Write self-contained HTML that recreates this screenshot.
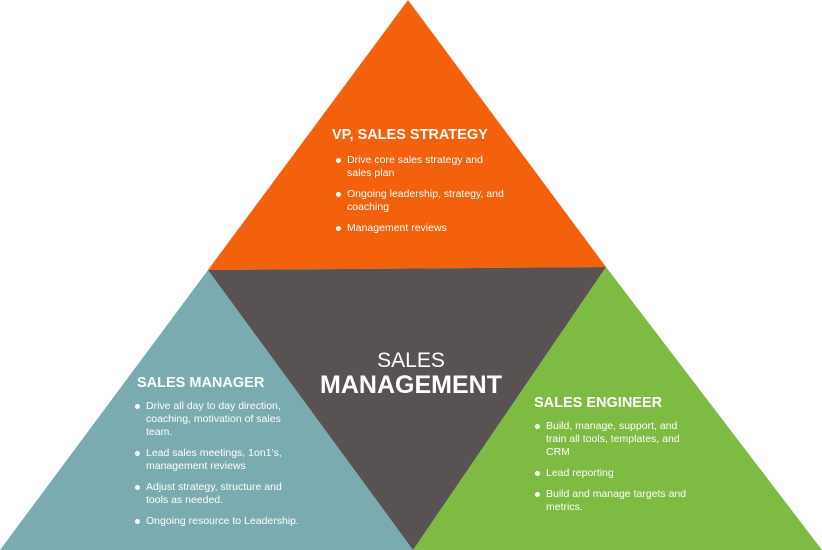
<!DOCTYPE html>
<html><head><meta charset="utf-8"><style>
body{margin:0;width:822px;height:550px;background:#fff;position:relative;overflow:hidden;font-family:"Liberation Sans",sans-serif;color:#fff}
svg{position:absolute;left:0;top:0}
.t{position:absolute;font-weight:bold;font-size:14.5px;white-space:nowrap}
ul{position:absolute;margin:0;padding:0;list-style:none;font-size:10.5px;line-height:13px}
li{position:relative;padding-left:11px;margin-bottom:8px}
li:before{content:"";position:absolute;left:0;top:4px;width:5px;height:5px;border-radius:50%;background:#fff}
</style></head><body>
<svg width="822" height="550">
<polygon points="408,0 606,267 208,270" fill="#f4610c"/>
<polygon points="208,270 413,550 0,550" fill="#7aabb0"/>
<polygon points="606,267 822,550 413,550" fill="#7dbb42"/>
<polygon points="208,270 606,267 413,550" fill="#585352"/>
</svg>
<div class="t" style="left:332px;top:127px">VP, SALES STRATEGY</div>
<ul style="left:336px;top:154px;width:170px">
<li>Drive core sales strategy and sales plan</li>
<li>Ongoing leadership, strategy, and coaching</li>
<li>Management reviews</li>
</ul>
<div style="position:absolute;left:320px;top:349px;width:182px;text-align:center;font-size:21px">SALES</div>
<div style="position:absolute;left:312px;top:371px;width:198px;text-align:center;font-size:25px;font-weight:bold">MANAGEMENT</div>
<div class="t" style="left:137px;top:375px">SALES MANAGER</div>
<ul style="left:135px;top:400px;width:170px">
<li>Drive all day to day direction, coaching, motivation of sales team.</li>
<li>Lead sales meetings, 1on1's, management reviews</li>
<li>Adjust strategy, structure and tools as needed.</li>
<li>Ongoing resource to Leadership.</li>
</ul>
<div class="t" style="left:534px;top:395px">SALES ENGINEER</div>
<ul style="left:535px;top:420px;width:160px">
<li>Build, manage, support, and train all tools, templates, and CRM</li>
<li>Lead reporting</li>
<li>Build and manage targets and metrics.</li>
</ul>
</body></html>
